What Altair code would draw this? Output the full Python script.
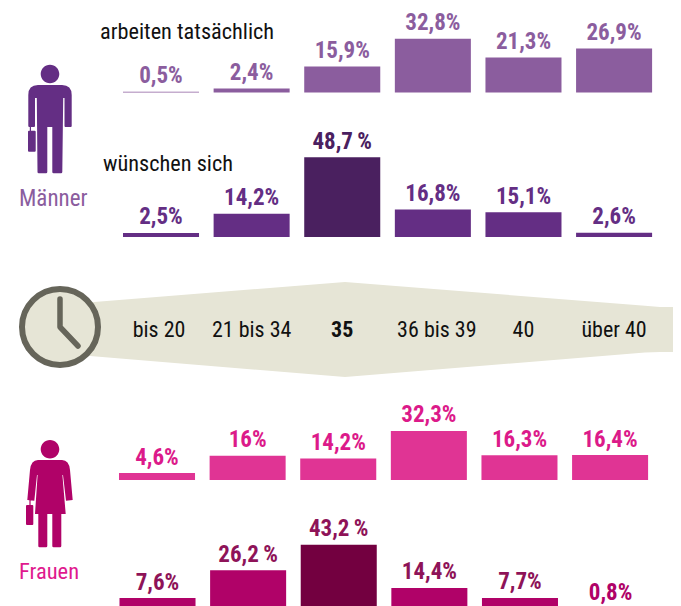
import altair as alt
import pandas as pd

# ---- values ----
categories = ["bis 20", "21 bis 34", "35", "36 bis 39", "40", "über 40"]
men_actual = [0.5, 2.4, 15.9, 32.8, 21.3, 26.9]
men_wish = [2.5, 14.2, 48.7, 16.8, 15.1, 2.6]
women_actual = [4.6, 16.0, 14.2, 32.3, 16.3, 16.4]
women_wish = [7.6, 26.2, 43.2, 14.4, 7.7, 0.8]
men_actual_labels = ["0,5%", "2,4%", "15,9%", "32,8%", "21,3%", "26,9%"]
men_wish_labels = ["2,5%", "14,2%", "48,7\u2009%", "16,8%", "15,1%", "2,6%"]
women_actual_labels = ["4,6%", "16%", "14,2%", "32,3%", "16,3%", "16,4%"]
women_wish_labels = ["7,6%", "26,2\u2009%", "43,2\u2009%", "14,4%", "7,7%", "0,8%"]

# ---- layout helpers (page pixels minus the 8px margin) ----
M = 8
W, H = 665, 598
NARROW = "Roboto Condensed, Liberation Sans Narrow, Roboto"
px_x = alt.Scale(domain=[M, M + W], range=[0, W])
px_y = alt.Scale(domain=[M, M + H], range=[0, H])


def band(left):
    return alt.Scale(type="band", domain=categories, paddingInner=0.161, paddingOuter=0.08, round=False,
                     range=[left - M - 7.25, left - M - 7.25 + 543.6])


def row(vals, labels, left, baseline, k, base, dark, text, text_dark):
    df = pd.DataFrame({"cat": categories, "v": vals, "lab": labels})
    y = alt.Y("v:Q", axis=None, scale=alt.Scale(domain=[0, 100], range=[baseline - M, baseline - M - 100 * k]))
    x = alt.X("cat:N", axis=None, sort=categories, scale=band(left))
    bars = alt.Chart(df).mark_bar(cornerRadius=0).encode(
        x=x, y=y, color=alt.when("datum.cat == '35'").then(alt.value(dark)).otherwise(alt.value(base)))
    lab = alt.Chart(df).mark_text(font=NARROW, fontWeight=700, fontSize=23, baseline="alphabetic", dy=-8.5).encode(
        x=x, y=y, text="lab:N",
        color=alt.when("datum.v < 1 && datum.cat == 'über 40'").then(alt.value(base))
        .when("datum.cat == '35'").then(alt.value(text_dark)).otherwise(alt.value(text)))
    return [bars, lab]


def note(txt, x, y, color="#111111", size=22.3):
    return alt.Chart(pd.DataFrame({"t": [txt]})).mark_text(
        font=NARROW, fontSize=size, align="left", baseline="alphabetic", color=color
    ).encode(x=alt.value(x - M), y=alt.value(y - M), text="t:N")


def tick(names, dx=0, weight=400):
    df = pd.DataFrame({"cat": names})
    return alt.Chart(df).mark_text(
        font=NARROW, fontSize=22, fontWeight=weight, baseline="alphabetic", color="#111111", dx=dx
    ).encode(x=alt.X("cat:N", axis=None, sort=categories, scale=band(123)),
             y=alt.value(337 - M), text="cat:N")


def icon(path, ax, ay, color):
    df = pd.DataFrame({"x": [ax], "y": [ay]})
    return alt.Chart(df).mark_point(shape=path, filled=True, size=4, opacity=1, color=color, strokeWidth=0).encode(
        x=alt.X("x:Q", axis=None, scale=px_x), y=alt.Y("y:Q", axis=None, scale=px_y))


# ---- decorative ribbon and clock ----
ribbon = pd.DataFrame({"x": [60, 345, 645, 660, 673],
                       "t": [304.7, 282, 305.8, 307, 307],
                       "b": [353.5, 377, 352.6, 352, 352]})
ribbon_mark = alt.Chart(ribbon).mark_area(color="#E6E5D6").encode(
    x=alt.X("x:Q", axis=None, scale=px_x),
    y=alt.Y("t:Q", axis=None, scale=px_y), y2="b:Q")

clock_face = alt.Chart(pd.DataFrame({"x": [60], "y": [327]})).mark_point(
    shape="circle", filled=True, size=5776, opacity=1, fill="#E6E5D6", stroke="#66655A", strokeWidth=6
).encode(x=alt.X("x:Q", axis=None, scale=px_x), y=alt.Y("y:Q", axis=None, scale=px_y))
clock_hands = alt.Chart(pd.DataFrame({"o": [0, 1, 2], "x": [60, 60, 78], "y": [299, 327, 346]})).mark_line(
    color="#66655A", strokeWidth=5.5, strokeCap="round", strokeJoin="round"
).encode(x=alt.X("x:Q", axis=None, scale=px_x), y=alt.Y("y:Q", axis=None, scale=px_y), order="o:Q")

# ---- pictograms: path units are pixels at size=4 ----
HEAD_M = "M-9.3,-53 a9.3,9.3 0 1,0 18.6,0 a9.3,9.3 0 1,0 -18.6,0 Z "
MAN = (HEAD_M +
       "M-12,-42 L12,-42 Q21.7,-42 21.7,-32 L21.7,-1 Q21.7,0 20.7,0 L15.5,0 Q14.5,0 14.5,-1 L14.5,-29 L13.2,-29 "
       "L12.3,45 Q12.3,46.3 11,46.3 L3.6,46.3 Q2.3,46.3 2.3,45 L2.3,0 L-2.7,0 L-2.7,45 Q-2.7,46.3 -4,46.3 "
       "L-11.2,46.3 Q-12.5,46.3 -12.5,45 L-13.2,-29 L-15,-29 L-15,-1 Q-15,0 -16,0 L-20.7,0 Q-21.7,0 -21.7,-1 "
       "L-21.7,-32 Q-21.7,-42 -12,-42 Z "
       "M-20.2,0 L-19,0 L-19,4 L-20.2,4 Z "
       "M-21,3.7 L-15.3,3.7 Q-14.3,3.7 -14.3,4.7 L-14.3,23.7 Q-14.3,24.7 -15.3,24.7 L-21,24.7 Q-22,24.7 -22,23.7 "
       "L-22,4.7 Q-22,3.7 -21,3.7 Z")
HEAD_W = "M-9.3,-50.7 a9.3,9.3 0 1,0 18.6,0 a9.3,9.3 0 1,0 -18.6,0 Z "
WOMAN = (HEAD_W +
         "M-12,-40 L12,-40 Q19,-40 20,-30 L22.7,0 L16,0.7 L13,-25 L12.4,-25 L15.7,14 L11.3,14 L11.3,46 "
         "Q11.3,47.3 10,47.3 L3.6,47.3 Q2.3,47.3 2.3,46 L2.3,14 L-2.7,14 L-2.7,46 Q-2.7,47.3 -4,47.3 L-10.4,47.3 "
         "Q-11.7,47.3 -11.7,46 L-11.7,14 L-15,14 L-12.4,-25 L-13,-25 L-15.7,0.7 L-22.7,0 L-20,-30 Q-19,-40 -12,-40 Z "
         "M-20.6,0 L-19.4,0 L-19.4,5 L-20.6,5 Z "
         "M-23,5 L-17.7,5 Q-16.7,5 -16.7,6 L-16.7,24 Q-16.7,25 -17.7,25 L-23,25 Q-24,25 -24,24 L-24,6 Q-24,5 -23,5 Z")

layers = [ribbon_mark, clock_face, clock_hands,
          icon(MAN, 50, 127, "#642E84"), icon(WOMAN, 50, 500, "#B00268"),
          note("arbeiten tatsächlich", 100, 39), note("wünschen sich", 103, 171),
          note("Männer", 19, 206, "#8B5D9E", 23), note("Frauen", 19, 579, "#E01A8E", 22.5),
          tick(["21 bis 34", "40", "über 40"]), tick(["bis 20"], dx=-2), tick(["36 bis 39"], dx=4),
          tick(["35"], weight=700)]
layers += row(men_actual, men_actual_labels, 123, 92.5, 1.64, "#8B5D9E", "#8B5D9E", "#8B5D9E", "#8B5D9E")
layers += row(men_wish, men_wish_labels, 123, 237, 1.64, "#642E84", "#4A205F", "#642E84", "#4A205F")
layers += row(women_actual, women_actual_labels, 119, 480, 1.52, "#E03494", "#E03494", "#DC1A8A", "#DC1A8A")
layers += row(women_wish, women_wish_labels, 119.5, 609.5, 1.5, "#B00268", "#730040", "#8E1358", "#8E1358")

chart = alt.layer(*layers).resolve_scale(x="independent", y="independent").properties(
    width=W, height=H, padding=0, autosize=alt.AutoSizeParams(type="none"), background="white"
).configure_view(stroke=None)

chart.save("out.html", embed_options={"renderer": "svg", "actions": False})
